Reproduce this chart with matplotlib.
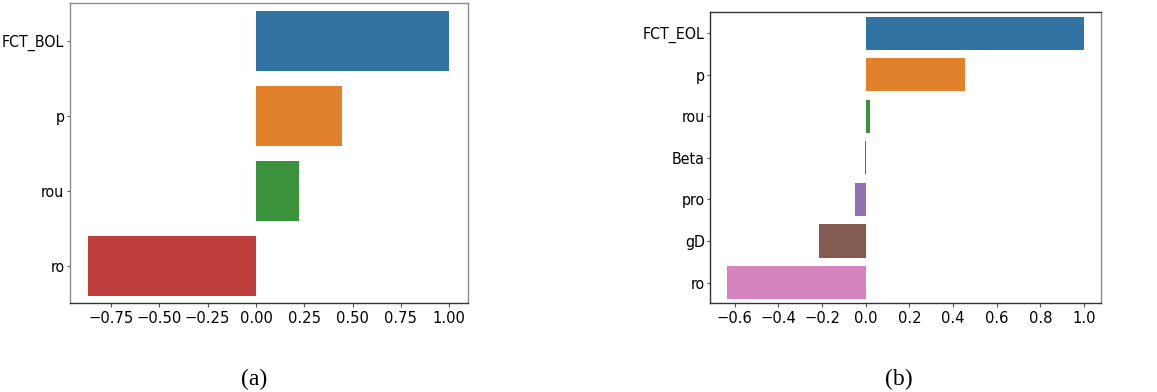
import numpy as np
import matplotlib
matplotlib.use("Agg")
import matplotlib.pyplot as plt

# correlation with the capacity-fade target at BOL / EOL
labels_bol = ["FCT_BOL", "p", "rou", "ro"]
corr_bol = [1.0, 0.443, 0.224, -0.867]

labels_eol = ["FCT_EOL", "p", "rou", "Beta", "pro", "gD", "ro"]
corr_eol = [1.0, 0.453, 0.018, -0.004, -0.049, -0.215, -0.634]

# seaborn barplot palette (tab10 at saturation 0.75)
palette = ["#3274a1", "#e1812c", "#3a923a", "#c03d3e", "#9372b2", "#845b53", "#d684bd"]

plt.rcParams["font.family"] = "DejaVu Sans"
plt.rcParams["font.stretch"] = "condensed"

fig = plt.figure(figsize=(11.57, 3.92), dpi=100)
ax1 = fig.add_axes([0.0605, 0.227, 0.344, 0.765])
ax2 = fig.add_axes([0.614, 0.2263, 0.338, 0.742])


def corr_bars(ax, labels, vals, xlim, xticks, fmt):
    y = np.arange(len(labels))
    ax.barh(y, vals, height=0.8, color=palette[:len(labels)])
    ax.set_yticks(y)
    ax.set_yticklabels(labels)
    ax.set_ylim(len(labels) - 0.5, -0.5)
    ax.set_xlim(*xlim)
    ax.set_xticks(xticks)
    ax.set_xticklabels([fmt.format(t).replace("-", "\u2212") for t in xticks])
    ax.tick_params(axis="x", labelsize=11.8, length=3, width=0.8, color="#555555", pad=2.5)
    ax.tick_params(axis="y", labelsize=11.4, length=2.5, width=0.8, color="#555555", pad=1.5)
    for s in ax.spines.values():
        s.set_linewidth(1.0)
        s.set_color("#333333")


corr_bars(ax1, labels_bol, corr_bol, (-0.962, 1.097),
          [-0.75, -0.5, -0.25, 0.0, 0.25, 0.5, 0.75, 1.0], "{:.2f}")
for side in ["left", "top", "right"]:
    ax1.spines[side].set_color("#8c8c8c")

corr_bars(ax2, labels_eol, corr_eol, (-0.711, 1.08),
          [-0.6, -0.4, -0.2, 0.0, 0.2, 0.4, 0.6, 0.8, 1.0], "{:.1f}")
ax2.spines["right"].set_color("#8c8c8c")

fig.text(254 / 1157, 1 - 379 / 392, "(a)", family="Liberation Serif",
         fontsize=17, ha="center", va="center")
fig.text(899 / 1157, 1 - 379 / 392, "(b)", family="Liberation Serif",
         fontsize=17, ha="center", va="center")

fig.savefig("out.png", dpi=100)
